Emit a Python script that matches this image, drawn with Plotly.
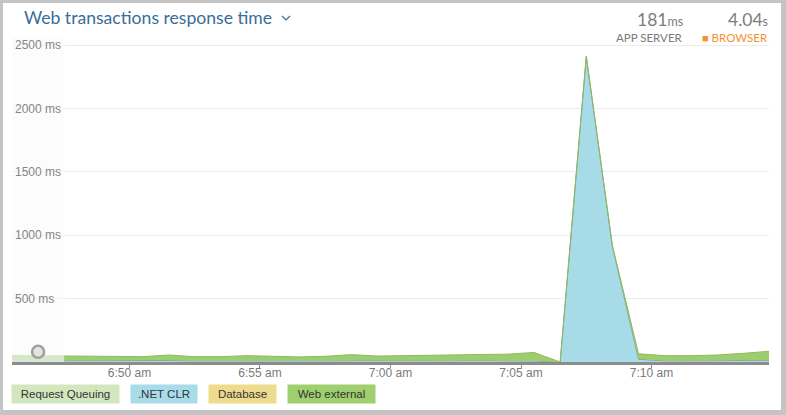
import plotly.graph_objects as go

# ---- data ----
times = ["2024-01-01 06:%02d:30" % m for m in range(45, 60)] + \
        ["2024-01-01 07:%02d:30" % m for m in range(0, 15)]
request_queuing = [0] * 30
net_clr = [9, 10, 9, 10, 12, 14, 12, 9, 8, 9, 10, 8, 9, 10, 9,
           8, 9, 10, 11, 9, 8, 0, 2405, 912, 22, 9, 8, 10, 12, 14]
database = [1, 1, 1, 1, 1, 1, 1, 1, 1, 1, 1, 1, 1, 1, 1,
            1, 1, 1, 1, 1, 1, 0, 2, 2, 1, 1, 1, 1, 1, 1]
web_external = [40, 39, 38, 35, 31, 27, 42, 32, 33, 40, 34, 31, 35, 47, 37,
                41, 42, 47, 50, 52, 66, 0, 6, 6, 42, 40, 41, 44, 55, 70]
y_ticks = [500, 1000, 1500, 2000, 2500]
y_tick_labels = ["500 ms", "1000 ms", "1500 ms", "2000 ms", "2500 ms"]
x_ticks = ["2024-01-01 06:50:00", "2024-01-01 06:55:00", "2024-01-01 07:00:00",
           "2024-01-01 07:05:00", "2024-01-01 07:10:00"]
x_tick_labels = ["6:50 am", "6:55 am", "7:00 am", "7:05 am", "7:10 am"]
dimmed_until = times[2]
event_time = [times[1]]
event_value = [80]
app_server = "181"
browser = "4.04"

W, H = 786, 415
L, R, T, B = 12, 17, 37, 53
pw, ph = W - L - R, H - T - B
y_max = 2500 * ph / (H - B - 45)   # so that 2500 ms sits at y=45


def px(x):
    return (x - L) / pw


def py(y):
    return (H - B - y) / ph


fig = go.Figure()
series = [
    ("Request Queuing", request_queuing, "#d3e7bf", "#d3e7bf", 0),
    (".NET CLR", net_clr, "#a8dbe8", "#86999c", 1),
    ("Database", database, "#efdb8e", "#efdb8e", 0),
    ("Web external", web_external, "#9dcd6c", "#8cbb5e", 1),
]
for name, vals, fc, lc, lw in series:
    fig.add_trace(go.Scatter(
        x=times, y=vals, name=name, stackgroup="one", mode="lines",
        fillcolor=fc, line=dict(color=lc, width=lw), hoverinfo="skip"))

# dimmed region overlay
fig.add_trace(go.Scatter(
    x=[times[0], dimmed_until, dimmed_until, times[0]],
    y=[0, 0, y_max, y_max],
    fill="toself", fillcolor="rgba(250,250,250,0.62)",
    line=dict(width=0), mode="lines", hoverinfo="skip", showlegend=False))

# event marker
fig.add_trace(go.Scatter(
    x=event_time, y=event_value, mode="markers", hoverinfo="skip",
    marker=dict(symbol="circle", size=12, color="#e4e4e4",
                line=dict(color="#a0a0a0", width=2.5)), showlegend=False))

fig.update_layout(
    width=W, height=H,
    margin=dict(l=L, r=R, t=T, b=B),
    paper_bgcolor="#c4c4c4", plot_bgcolor="rgba(0,0,0,0)",
    showlegend=False,
    xaxis=dict(range=[times[0], times[-1]], tickvals=x_ticks,
               ticktext=x_tick_labels, showgrid=False, zeroline=False,
               showline=True, linecolor="#8c8c8c", linewidth=3,
               ticks="outside", ticklen=3, tickcolor="#8c8c8c",
               ticklabelstandoff=-5,
               tickfont=dict(family="Liberation Sans", size=12, color="#7a7a7a")),
    yaxis=dict(range=[0, y_max], tickvals=y_ticks, ticktext=y_tick_labels,
               ticklabelposition="inside", showgrid=True, gridcolor="#ebebeb",
               gridwidth=1, zeroline=False, showline=False,
               tickfont=dict(family="Liberation Sans", size=12, color="#858585")),
)

# white card
fig.add_shape(type="rect", xref="paper", yref="paper", layer="below",
              x0=px(3), x1=px(781), y0=py(410), y1=py(3),
              fillcolor="white", line=dict(width=0))
# chevron
fig.add_shape(type="path", xref="paper", yref="paper",
              path=f"M {px(282)},{py(16)} L {px(286)},{py(20)} L {px(290)},{py(16)}",
              line=dict(color="#3a6d99", width=1.2))

ann = []
ann.append(dict(text="Web transactions response time", x=px(22), y=py(18),
                xanchor="left", yanchor="middle",
                font=dict(family="Lato", size=17.6, color="#3a6d99")))
ann.append(dict(text=app_server + "<span style='font-size:12.5px'>ms</span>",
                x=px(685), y=py(19), xanchor="right", yanchor="middle",
                font=dict(family="Lato", size=17.5, color="#7d7d7d")))
ann.append(dict(text=browser + "<span style='font-size:12.5px'>s</span>",
                x=px(770), y=py(19), xanchor="right", yanchor="middle",
                font=dict(family="Lato", size=17.5, color="#7d7d7d")))
ann.append(dict(text="APP SERVER", x=px(685), y=py(37), xanchor="right",
                yanchor="middle",
                font=dict(family="Lato", size=11.5, color="#7a7a7a")))
ann.append(dict(text="<span style='font-size:11px'>■</span> BROWSER", x=px(770),
                y=py(37), xanchor="right", yanchor="middle",
                font=dict(family="Lato", size=11.5, color="#f5922f")))

legend_items = [("Request Queuing", "#d3e7bf", 12, 119),
                (".NET CLR", "#a9dcea", 131, 197),
                ("Database", "#efdb8e", 209, 276),
                ("Web external", "#9fcf6f", 288, 375)]
for text, col, x0, x1 in legend_items:
    ann.append(dict(text=text, x=px((x0 + x1) / 2), y=py(394),
                    xanchor="center", yanchor="middle",
                    width=x1 - x0 - 2, height=16, borderpad=1, bgcolor=col,
                    align="center",
                    font=dict(family="Liberation Sans", size=11.5, color="#333")))
for a in ann:
    a.update(xref="paper", yref="paper", showarrow=False)
fig.update_layout(annotations=ann)

fig.write_html("out.html", config={"displayModeBar": False},
               post_script="document.body.style.margin='0';"
                           "document.body.style.overflow='hidden';")
